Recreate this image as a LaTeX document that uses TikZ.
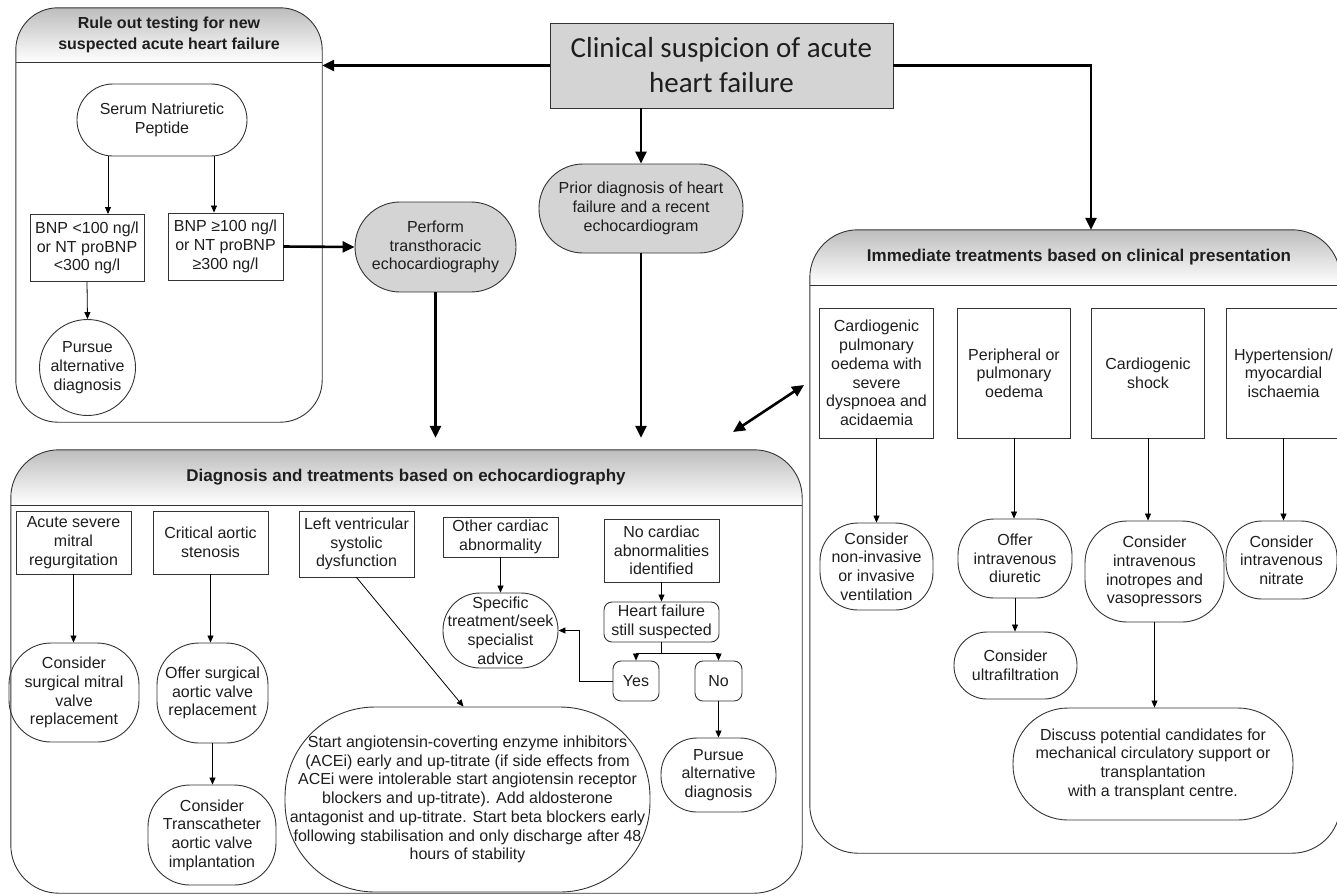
\documentclass[tikz,border=0pt]{standalone}
\usepackage{fontspec}
\setmainfont{Liberation Sans}
\newfontfamily\calib{Carlito}
\usetikzlibrary{arrows.meta,calc}
\definecolor{bord}{HTML}{333333}
\definecolor{grayfill}{HTML}{D4D4D4}
\definecolor{txt}{HTML}{1E1E1E}
\definecolor{hdrgray}{HTML}{BDBDBD}
\begin{document}
\begin{tikzpicture}[x=1pt,y=-1pt,
 every node/.style={font=\fontsize{16}{18.7}\selectfont, align=center, inner sep=0pt, text=txt},
 bx/.style={draw=bord, line width=0.9pt, rectangle},
 rbx/.style={draw=bord, line width=0.9pt, rounded corners=#1},
 gbx/.style={draw=bord, line width=0.9pt, rounded corners=#1, fill=grayfill},
 arr/.style={-{Triangle[length=7pt,width=6pt]}, line width=0.8pt, black},
 tarr/.style={-{Triangle[length=12pt,width=11pt]}, line width=2.6pt, black},
 cont/.style={draw=bord, line width=0.9pt, rounded corners=#1},
 hdr/.style={font=\bfseries\fontsize{17}{21}\selectfont},
]
\useasboundingbox (0,0) rectangle (1337,895);

% ---------- containers ----------
\path node[minimum width=306, minimum height=414] (ruleout) at (169,215) {};
\path node[minimum width=791, minimum height=443] (diag) at (406.5,671.5) {};
\path node[minimum width=530, minimum height=623] (immed) at (1075,541.5) {};

\begin{scope}
\clip[rounded corners=42] (ruleout.north west) rectangle (ruleout.south east);
\shade[top color=hdrgray, bottom color=white] (ruleout.north west) rectangle (ruleout.east |- 0,62);
\end{scope}
\begin{scope}
\clip[rounded corners=48] (diag.north west) rectangle (diag.south east);
\shade[top color=hdrgray, bottom color=white] (diag.north west) rectangle (diag.east |- 0,505);
\end{scope}
\begin{scope}
\clip[rounded corners=48] (immed.north west) rectangle (immed.south east);
\shade[top color=hdrgray, bottom color=white] (immed.north west) rectangle (immed.east |- 0,285);
\end{scope}
\draw[cont=42] (ruleout.north west) rectangle (ruleout.south east);
\draw[cont=48] (diag.north west) rectangle (diag.south east);
\draw[cont=48] (immed.north west) rectangle (immed.south east);
\draw[bord, line width=0.9pt] (ruleout.west |- 0,62) -- (ruleout.east |- 0,62);
\draw[bord, line width=0.9pt] (diag.west |- 0,505) -- (diag.east |- 0,505);
\draw[bord, line width=0.9pt] (immed.west |- 0,285) -- (immed.east |- 0,285);

\node[font=\bfseries\fontsize{16}{21}\selectfont] (t1) at (169,35) {Rule out testing for new\\suspected acute heart failure};
\node[hdr] (t2) at (406,477) {Diagnosis and treatments based on echocardiography};
\node[hdr] (t3) at (1079,257) {Immediate treatments based on clinical presentation};

% ---------- top ----------
\node[bx, fill=grayfill, minimum width=343, minimum height=85, font=\calib\fontsize{29}{35}\selectfont] (clin) at (721.5,65.5) {Clinical suspicion of acute\\heart failure};
\node[gbx=44, minimum width=204, minimum height=89] (prior) at (641,208.5) {Prior diagnosis of heart\\failure and a recent\\echocardiogram};
\node[gbx=45, minimum width=161, minimum height=90] (perform) at (435.5,247) {Perform\\transthoracic\\echocardiography};

% ---------- rule out ----------
\node[rbx=35.9, minimum width=170, minimum height=72] (serum) at (162,120) {Serum Natriuretic\\Peptide};
\node[bx, minimum width=114, minimum height=67] (bnplo) at (87,248) {BNP <100 ng/l\\or NT proBNP\\<300 ng/l};
\node[bx, minimum width=115, minimum height=67] (bnphi) at (225.5,246.5) {BNP ≥100 ng/l\\or NT proBNP\\≥300 ng/l};
\node[draw=bord, line width=0.9pt, circle, minimum size=96] (pur1) at (87.5,367.5) {Pursue\\alternative\\diagnosis};

% ---------- immediate ----------
\node[bx, minimum width=114, minimum height=130] (cpo) at (876.5,373) {Cardiogenic\\pulmonary\\oedema with\\severe\\dyspnoea and\\acidaemia};
\node[bx, minimum width=113, minimum height=130] (peri) at (1014,373) {Peripheral or\\pulmonary\\oedema};
\node[bx, minimum width=113, minimum height=130] (shock) at (1148,373) {Cardiogenic\\shock};
\node[bx, minimum width=114, minimum height=130] (hyper) at (1283.5,373) {Hypertension/\\myocardial\\ischaemia};
\node[rbx=38, minimum width=113, minimum height=87] (niv) at (876.5,566.5) {Consider\\non-invasive\\or invasive\\ventilation};
\node[rbx=36, minimum width=114, minimum height=79] (diur) at (1015,558.5) {Offer\\intravenous\\diuretic};
\node[rbx=33, minimum width=123, minimum height=67] (ultra) at (1015.5,665.5) {Consider\\ultrafiltration};
\node[rbx=42, minimum width=139, minimum height=101] (inot) at (1154.5,571.5) {Consider\\intravenous\\inotropes and\\vasopressors};
\node[rbx=36, minimum width=111, minimum height=78] (nitr) at (1281.5,560) {Consider\\intravenous\\nitrate};
\node[rbx=55, minimum width=280, minimum height=112] (disc) at (1153,764) {Discuss potential candidates for\\mechanical circulatory support or\\transplantation\\with a transplant centre.};

% ---------- diagnosis ----------
\node[bx, minimum width=115, minimum height=63] (amr) at (73.5,542.5) {Acute severe\\mitral\\regurgitation};
\node[bx, minimum width=115, minimum height=63] (cas) at (210.5,542.5) {Critical aortic\\stenosis};
\node[bx, minimum width=115, minimum height=66] (lvsd) at (356.5,544) {Left ventricular\\systolic\\dysfunction};
\node[bx, minimum width=115, minimum height=40] (oca) at (500.5,537) {Other cardiac\\abnormality};
\node[bx, minimum width=115, minimum height=63] (nca) at (661.5,550.5) {No cardiac\\abnormalities\\identified};
\node[rbx=42, minimum width=130, minimum height=99] (csmv) at (74,692.5) {Consider\\surgical mitral\\valve\\replacement};
\node[rbx=42, minimum width=111, minimum height=100] (osav) at (212.5,693) {Offer surgical\\aortic valve\\replacement};
\node[rbx=42, minimum width=128, minimum height=100] (tavi) at (212,835) {Consider\\Transcatheter\\aortic valve\\implantation};
\node[rbx=90, minimum width=365, minimum height=185] (acei) at (467.5,799.5) {Start angiotensin-coverting enzyme inhibitors\\(ACEi) early and up-titrate (if side effects from\\ACEi were intolerable start angiotensin receptor\\blockers and up-titrate). Add aldosterone\\antagonist and up-titrate. Start beta blockers early\\following stabilisation and only discharge after 48\\hours of stability};
\node[rbx=37, minimum width=115, minimum height=75] (spec) at (500.5,630.5) {Specific\\treatment/seek\\specialist\\advice};
\node[rbx=8, minimum width=115, minimum height=40] (hfs) at (661.5,622) {Heart failure\\still suspected};
\node[rbx=8, minimum width=46, minimum height=40] (yes) at (636,681) {Yes};
\node[rbx=8, minimum width=47, minimum height=40] (no) at (718.5,681) {No};
\node[rbx=36, minimum width=115, minimum height=74] (pur2) at (718.5,775) {Pursue\\alternative\\diagnosis};

% ---------- thick connectors ----------
\draw[tarr] (clin.west) -- (clin.west -| ruleout.east);
\draw[tarr] (prior.north |- clin.south) -- (prior.north);
\coordinate (imtop) at (1091,0);
\draw[tarr] (clin.east) -| (imtop |- immed.north);
\draw[tarr] (bnphi.east) -- (perform.west);
\draw[tarr, shorten >=12pt] (perform.south) -- (perform.south |- diag.north);
\draw[tarr, shorten >=12pt] (prior.south) -- (prior.south |- diag.north);
\coordinate (dA) at (733,432);
\coordinate (dB) at (804,385);
\draw[{Triangle[length=12pt,width=11pt]}-{Triangle[length=12pt,width=11pt]}, line width=2.6pt] (dA) -- (dB);

% ---------- thin connectors ----------
\path ($(serum.south)+(-54,0)$) coordinate (s1) ($(serum.south)+(52,0)$) coordinate (s2);
\draw[arr] (s1) -- (s1 |- bnplo.north);
\draw[arr] (s2) -- (s2 |- bnphi.north);
\draw[arr] (bnplo.south) -- (pur1.north);

\draw[arr] (cpo.south) -- (cpo.south |- niv.north);
\draw[arr] (peri.south) -- (peri.south |- diur.north);
\draw[arr] (shock.south) -- (shock.south |- inot.north);
\draw[arr] (hyper.south) -- (hyper.south |- nitr.north);
\draw[arr] (diur.south) -- (diur.south |- ultra.north);
\draw[arr] (inot.south) -- (inot.south |- disc.north);

\draw[arr] (amr.south) -- (amr.south |- csmv.north);
\draw[arr] (cas.south) -- (cas.south |- osav.north);
\draw[arr] (osav.south) -- (osav.south |- tavi.north);
\draw[arr] (lvsd.south) -- ([xshift=-4pt]acei.north);
\draw[arr] (oca.south) -- (oca.south |- spec.north);
\draw[arr] (nca.south) -- (hfs.north);
\coordinate (br) at (0,653);
\draw[line width=0.8pt] (hfs.south) -- (hfs.south |- br);
\draw[line width=0.8pt] (yes.north |- br) -- (no.north |- br);
\draw[arr] (yes.north |- br) -- (yes.north);
\draw[arr] (no.north |- br) -- (no.north);
\draw[arr] (yes.west) -- ++(-33,0) |- (spec.east);
\draw[arr] (no.south) -- (pur2.north);
\end{tikzpicture}
\end{document}
